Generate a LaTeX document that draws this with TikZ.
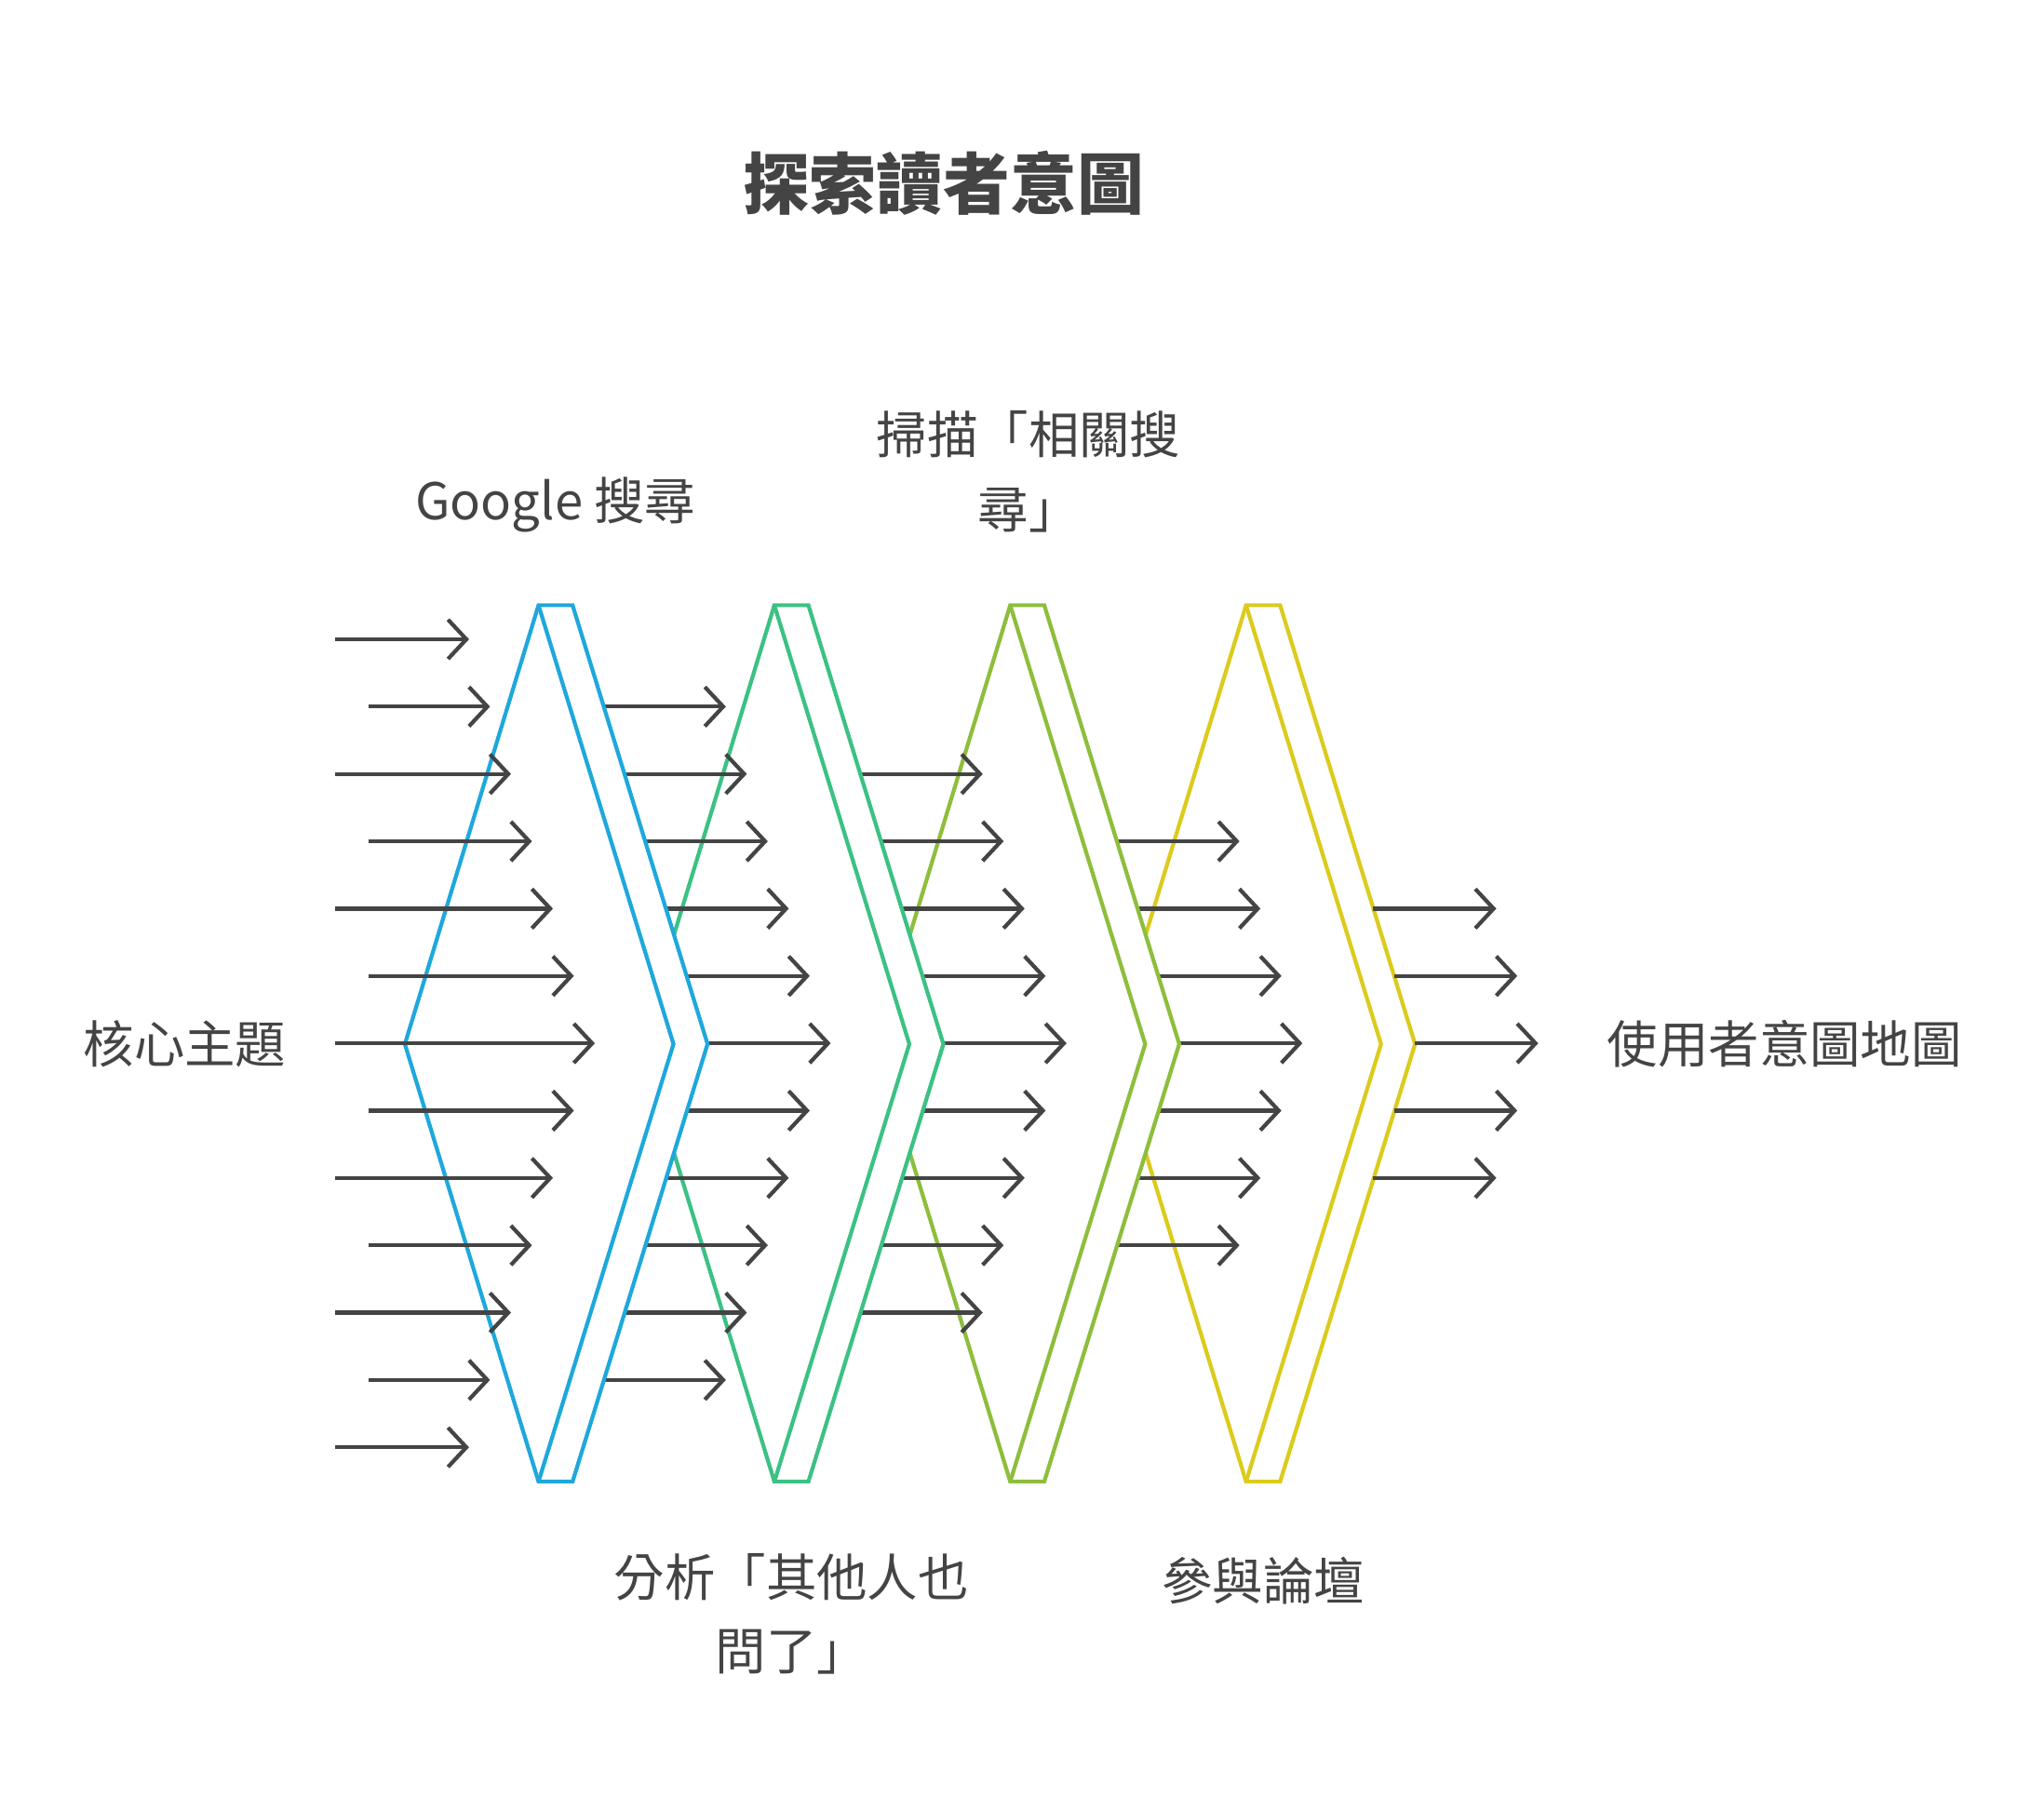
\documentclass[tikz,border=0pt]{standalone}
\usepackage{fontspec}
\setmainfont{Noto Sans CJK TC}
\usetikzlibrary{arrows.meta}
\definecolor{cblue}{HTML}{1EA8DC}
\definecolor{cgreen}{HTML}{3CC184}
\definecolor{colive}{HTML}{8DBE3C}
\definecolor{cyellow}{HTML}{DCCB1C}
\definecolor{cdark}{HTML}{444444}

\tikzset{
    flow/.style={draw=cdark, line width=0.03cm, -{Straight Barb[length=0.14cm, width=0.3cm, line width=0.03cm]}},
    stage/.style={line width=0.03cm, fill=white, line join=miter},
    label/.style={text=cdark, font=\fontsize{11}{16}\selectfont, align=center}
}

% one chevron, left corner x offset #1, colour #2
\newcommand{\chevron}[2]{
    \draw[stage, draw=#2] (#1+411,462) -- (#1+309,797) -- (#1+411,1131) -- (#1+437,1131)
        -- (#1+540,797) -- (#1+437,462) -- cycle;
    \draw[stage, draw=#2] (#1+411,462) -- (#1+514,797) -- (#1+411,1131);
}

\begin{document}
\begin{tikzpicture}[x=0.01cm, y=-0.01cm]
    \useasboundingbox (0,0) rectangle (1560,1381);

    % Title
    \node[text=cdark, font=\fontsize{14.5}{18}\selectfont\bfseries] (title) at (720,140) {探索讀者意圖};

    % Stages, back to front, with the arrows between them
    \chevron{540}{cyellow}
    \foreach \k in {3,...,9} {
        \pgfmathsetmacro{\d}{16*abs(\k-6)}
        \draw[flow] (780,488+51.4*\k) -- (994-\d,488+51.4*\k);
    }
    \chevron{360}{colive}
    \foreach \k in {2,...,10} {
        \pgfmathsetmacro{\d}{16*abs(\k-6)}
        \draw[flow] (600,488+51.4*\k) -- (814-\d,488+51.4*\k);
    }
    \chevron{180}{cgreen}
    \foreach \k in {1,...,11} {
        \pgfmathsetmacro{\d}{16*abs(\k-6)}
        \draw[flow] (420,488+51.4*\k) -- (634-\d,488+51.4*\k);
    }
    \chevron{0}{cblue}

    % Input arrows
    \foreach \k in {0,...,12} {
        \pgfmathsetmacro{\d}{16*abs(\k-6)}
        \pgfmathsetmacro{\s}{isodd(\k) ? 281 : 256}
        \draw[flow] (\s,488+51.4*\k) -- (454-\d,488+51.4*\k);
    }

    % Output arrows
    \foreach \k in {4,...,8} {
        \pgfmathsetmacro{\d}{16*abs(\k-6)}
        \draw[flow] (1080-\d,488+51.4*\k) -- (1174-\d,488+51.4*\k);
    }

    % Labels
    \node[label] (core) at (141,797) {核心主題};
    \node[label] (goal) at (1362,797) {使用者意圖地圖};
    \node[label] (google) at (424,385) {Google 搜尋};
    \node[label] (related) at (785,360) {掃描「相關搜\\尋」};
    \node[label] (paa) at (604,1232) {分析「其他人也\\問了」};
    \node[label] (forum) at (964,1207) {參與論壇};
\end{tikzpicture}
\end{document}
